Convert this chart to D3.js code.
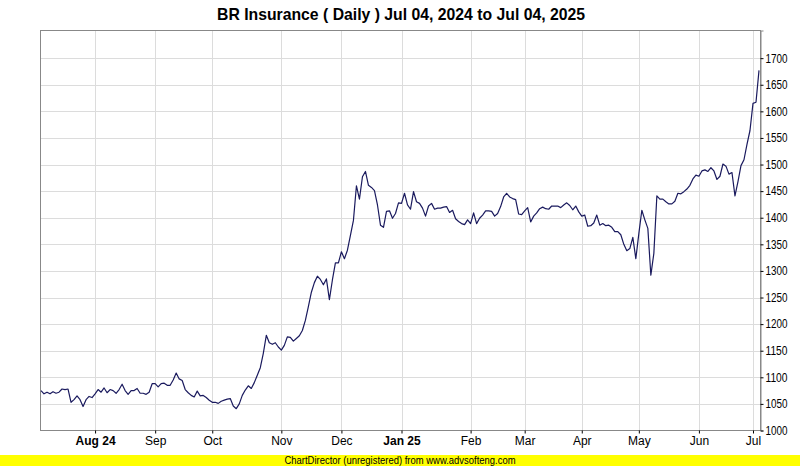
<!DOCTYPE html>
<html>
<head>
<meta charset="utf-8">
<script src="https://cdn.jsdelivr.net/npm/d3@7"></script>
<style>
  html, body { margin: 0; padding: 0; background: #ffffff; }
  svg { display: block; }
</style>
</head>
<body>
<div id="chart"></div>
<script>
// ---- data (one value per trading day, Jul 04 2024 .. Jul 04 2025) ----
const titleText = "BR Insurance ( Daily ) Jul 04, 2024 to Jul 04, 2025";
const closeValues = [
  1075,1069,1072,1069,1073,1070,1072,1078,1077,1078,
  1053,1058,1065,1058,1045,1058,1064,1062,1069,1077,
  1072,1080,1071,1077,1075,1070,1077,1087,1075,1068,
  1075,1075,1079,1070,1070,1068,1072,1088,1088,1082,
  1088,1089,1085,1085,1095,1108,1097,1094,1077,1071,
  1066,1063,1074,1065,1066,1062,1057,1053,1053,1051,
  1055,1057,1059,1060,1046,1041,1050,1066,1076,1084,
  1079,1090,1104,1118,1145,1179,1165,1162,1165,1157,
  1151,1160,1176,1175,1168,1173,1178,1188,1207,1233,
  1260,1278,1290,1284,1274,1285,1246,1283,1315,1315,
  1336,1323,1339,1367,1395,1460,1435,1477,1487,1461,
  1457,1451,1424,1386,1382,1412,1413,1399,1408,1428,
  1427,1446,1424,1416,1449,1430,1427,1418,1403,1422,
  1427,1416,1418,1418,1420,1421,1410,1414,1398,1393,
  1389,1387,1396,1389,1409,1389,1399,1405,1413,1413,
  1412,1403,1408,1421,1439,1446,1439,1436,1434,1407,
  1406,1413,1419,1392,1403,1409,1417,1420,1417,1416,
  1422,1422,1422,1419,1424,1428,1423,1415,1422,1411,
  1403,1405,1384,1385,1390,1405,1386,1389,1385,1386,
  1382,1374,1374,1368,1350,1338,1342,1363,1323,1370,
  1414,1396,1380,1292,1333,1441,1435,1435,1430,1426,
  1426,1431,1446,1445,1449,1454,1461,1473,1480,1478,
  1488,1490,1487,1494,1488,1472,1478,1501,1497,1482,
  1485,1441,1468,1498,1509,1538,1564,1615,1617,1677
];
// month ticks: label and trading-day index of the first session of the month
const monthLabels  = ["Aug 24","Sep","Oct","Nov","Dec","Jan 25","Feb","Mar","Apr","May","Jun","Jul"];
const monthIndex   = [18, 38, 57, 80, 100, 120, 143, 161, 180, 199, 219, 237];
const monthBold    = [true,false,false,false,false,true,false,false,false,false,false,false];
const yTickValues  = [1000,1050,1100,1150,1200,1250,1300,1350,1400,1450,1500,1550,1600,1650,1700];
const yDomain      = [1000, 1752];
const bannerText   = "ChartDirector (unregistered) from www.advsofteng.com";

// ---- layout ----
const W = 800, H = 466;
const plot = { left: 40.5, right: 760.5, top: 30.5, bottom: 430.5 };

const svg = d3.select("#chart").append("svg")
  .attr("width", W).attr("height", H)
  .style("font-family", "'Liberation Sans Narrow','Arial Narrow','Liberation Sans',Arial,sans-serif");

const x = d3.scaleLinear().domain([0, closeValues.length - 1]).range([41, 759]);
const y = d3.scaleLinear().domain(yDomain).range([plot.bottom, plot.top]);

// title
svg.append("text")
  .attr("x", 401).attr("y", 20)
  .attr("text-anchor", "middle")
  .attr("font-size", 17).attr("font-weight", "bold")
  .attr("fill", "#000")
  .attr("textLength", 368).attr("lengthAdjust", "spacingAndGlyphs")
  .text(titleText);

// horizontal grid
svg.append("g").selectAll("line")
  .data(yTickValues.filter(v => v > yDomain[0]))
  .join("line")
  .attr("x1", plot.left).attr("x2", plot.right)
  .attr("y1", d => Math.round(y(d)) + 0.5).attr("y2", d => Math.round(y(d)) + 0.5)
  .attr("stroke", "#dcdcdc").attr("stroke-width", 1);

// vertical grid
svg.append("g").selectAll("line")
  .data(monthIndex)
  .join("line")
  .attr("x1", d => Math.round(x(d)) + 0.5).attr("x2", d => Math.round(x(d)) + 0.5)
  .attr("y1", plot.top).attr("y2", plot.bottom)
  .attr("stroke", "#dcdcdc").attr("stroke-width", 1);

// frame
svg.append("rect")
  .attr("x", plot.left).attr("y", plot.top)
  .attr("width", plot.right - plot.left).attr("height", plot.bottom - plot.top)
  .attr("fill", "none").attr("stroke", "#888888").attr("stroke-width", 1);

// right y axis
const yAxis = d3.axisRight(y).tickValues(yTickValues).tickSize(3).tickPadding(2).tickFormat(d3.format("d"));
const gy = svg.append("g").attr("transform", `translate(${plot.right},0)`).call(yAxis);
gy.select(".domain").attr("stroke", "#888888");
gy.selectAll(".tick line").attr("stroke", "#000");
gy.selectAll(".tick text").attr("font-size", 12).attr("fill", "#000")
  .style("font-family", "'Liberation Sans',Arial,sans-serif")
  .attr("textLength", 22).attr("lengthAdjust", "spacingAndGlyphs");

// bottom x axis
const xAxis = d3.axisBottom(x).tickValues(monthIndex).tickSize(3).tickPadding(3)
  .tickFormat((d, i) => monthLabels[i]);
const gx = svg.append("g").attr("transform", `translate(0,${plot.bottom})`).call(xAxis);
gx.select(".domain").remove();
gx.selectAll(".tick line").attr("stroke", "#000");
gx.selectAll(".tick text")
  .attr("font-size", 12).attr("fill", "#000")
  .attr("font-weight", (d, i) => monthBold[i] ? "bold" : "normal");

// price line
const line = d3.line().x((d, i) => x(i)).y(d => y(d));
svg.append("path")
  .datum(closeValues)
  .attr("d", line)
  .attr("fill", "none")
  .attr("stroke", "#1a1a5e")
  .attr("stroke-width", 1.2)
  .attr("stroke-linejoin", "round");

// banner
svg.append("rect").attr("x", 0).attr("y", 455).attr("width", W).attr("height", 11).attr("fill", "#ffff00");
svg.append("text")
  .attr("x", 400).attr("y", 464)
  .attr("text-anchor", "middle")
  .attr("font-size", 10).attr("fill", "#000")
  .attr("textLength", 231).attr("lengthAdjust", "spacingAndGlyphs")
  .text(bannerText);
</script>
</body>
</html>
